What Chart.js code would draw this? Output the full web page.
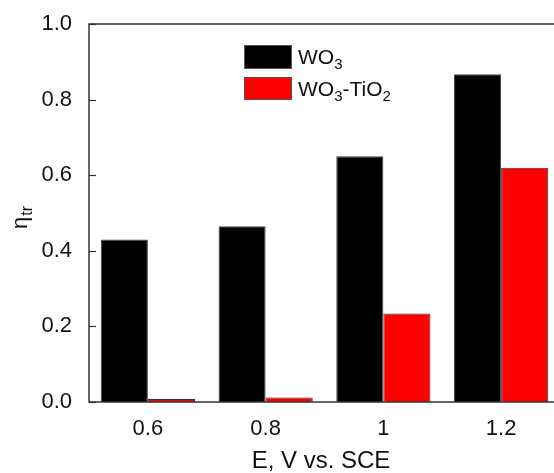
<!DOCTYPE html>
<html>
<head>
<meta charset="utf-8">
<script src="https://cdn.jsdelivr.net/npm/chart.js@4/dist/chart.umd.min.js"></script>
<style>
  html, body { margin: 0; padding: 0; background: #fff; overflow: hidden; }
  #wrap { width: 554px; height: 473px; overflow: hidden; }
</style>
</head>
<body>
<div id="wrap"><canvas id="myChart" width="562" height="473"></canvas></div>
<script>
const categories = ['0.6', '0.8', '1', '1.2'];
const wo3 = [0.43, 0.465, 0.65, 0.867];
const wo3TiO2 = [0.008, 0.012, 0.234, 0.62];
const yTicks = [0, 0.2, 0.4, 0.6, 0.8, 1.0];

const FONT = '"Liberation Sans", Arial, sans-serif';

// draws frame, inward ticks, legend and axis titles (with subscripts)
const decor = {
  id: 'decor',
  afterDraw(chart) {
    const ctx = chart.ctx;
    const a = chart.chartArea;
    const y = chart.scales.y;
    ctx.save();
    ctx.strokeStyle = '#333';
    ctx.lineWidth = 1.5;
    ctx.strokeRect(a.left, a.top, a.right - a.left, a.bottom - a.top);

    ctx.lineWidth = 1.2;
    yTicks.forEach(v => {
      const py = Math.round(y.getPixelForValue(v)) + 0.5;
      ctx.beginPath();
      ctx.moveTo(a.left, py);
      ctx.lineTo(a.left + 7, py);
      ctx.stroke();
    });

    // legend
    ctx.lineWidth = 1;
    ctx.strokeStyle = '#555';
    ctx.fillStyle = '#000';
    ctx.fillRect(244, 45, 48, 24);
    ctx.strokeRect(244.5, 45.5, 47, 23);
    ctx.fillStyle = '#ff0000';
    ctx.fillRect(244, 77, 48, 23);
    ctx.strokeRect(244.5, 77.5, 47, 22);

    ctx.fillStyle = '#111';
    ctx.textBaseline = 'alphabetic';
    ctx.textAlign = 'left';
    const runs = (parts, x, base) => {
      parts.forEach(p => {
        ctx.font = (p.sub ? '15px ' : '21px ') + FONT;
        ctx.fillText(p.t, x, base + (p.sub ? 5 : 0));
        x += ctx.measureText(p.t).width;
      });
    };
    runs([{t: 'WO'}, {t: '3', sub: true}], 298, 64);
    runs([{t: 'WO'}, {t: '3', sub: true}, {t: '-TiO'}, {t: '2', sub: true}], 298, 96);

    // x title
    ctx.font = '24px ' + FONT;
    ctx.textAlign = 'center';
    ctx.fillText('E, V vs. SCE', 321, 468);

    // y title
    ctx.translate(27, 229);
    ctx.rotate(-Math.PI / 2);
    ctx.textAlign = 'left';
    ctx.font = '22px ' + FONT;
    ctx.fillText('\u03b7', 0, 0);
    const w = ctx.measureText('\u03b7').width;
    ctx.font = '16px ' + FONT;
    ctx.fillText('tr', w + 1, 5);
    ctx.restore();
  }
};

const data = {
  labels: categories,
  datasets: [
    {
      label: 'WO3',
      data: wo3,
      backgroundColor: '#000',
      borderColor: '#444',
      borderWidth: 1
    },
    {
      label: 'WO3-TiO2',
      data: wo3TiO2,
      backgroundColor: '#ff0000',
      borderColor: '#333',
      borderWidth: 1
    }
  ]
};

const config = {
  type: 'bar',
  data: data,
  options: {
    responsive: false,
    devicePixelRatio: 1,
    animation: false,
    categoryPercentage: 0.8,
    barPercentage: 1.0,
    layout: { padding: { top: 24, right: 2, left: 0, bottom: 0 } },
    plugins: {
      legend: { display: false },
      tooltip: { enabled: false }
    },
    scales: {
      x: {
        offset: true,
        grid: { display: false },
        border: { display: false },
        ticks: {
          color: '#111',
          padding: 6,
          font: { family: FONT, size: 22 },
          maxRotation: 0
        },
        afterFit: s => { s.height = 71; }
      },
      y: {
        min: 0,
        max: 1,
        grid: { display: false },
        border: { display: false },
        ticks: {
          stepSize: 0.2,
          color: '#111',
          padding: 9,
          font: { family: FONT, size: 22 },
          callback: v => v.toFixed(1)
        },
        afterFit: s => { s.width = 89; }
      }
    }
  },
  plugins: [decor]
};

const myChart = new Chart(document.getElementById('myChart').getContext('2d'), config);
</script>
</body>
</html>
